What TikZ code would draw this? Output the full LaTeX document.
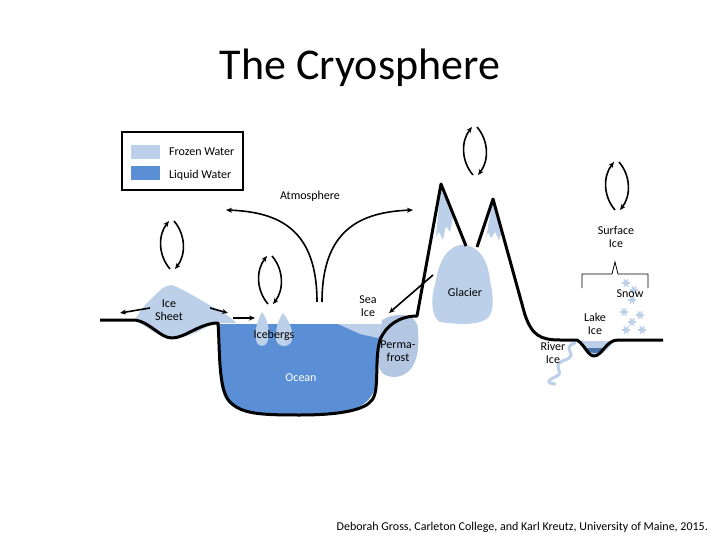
\documentclass[tikz,border=0pt]{standalone}
\usepackage{fontspec}
\setmainfont{Carlito}
\usetikzlibrary{arrows.meta,decorations.pathreplacing}
\definecolor{frozen}{HTML}{BDD0E9}
\definecolor{liquid}{HTML}{5B8FD5}
\definecolor{perma}{HTML}{B4C7E2}
\tikzset{
  lbl/.style={font=\fontsize{12}{13}\selectfont, align=center, inner sep=0pt},
  flow/.style={line width=1.6pt, -{Stealth[length=6pt,width=5pt]}},
  ground/.style={line width=3pt, line join=round},
  pics/loop/.style={code={
    \draw[flow] (-2,24) .. controls (-14,10) and (-14,-10) .. (-3,-24);
    \draw[flow] (2,-24) .. controls (14,-10) and (14,10) .. (3,24);
  }},
  pics/flake/.style={code={
    \draw[frozen, line width=1.6pt] (-4,0)--(4,0) (-2,-3.5)--(2,3.5) (-2,3.5)--(2,-3.5);
  }}
}
\begin{document}
\begin{tikzpicture}[x=1pt,y=-1pt]
\useasboundingbox (0,0) rectangle (720,540);
\fill[white] (0,0) rectangle (720,540);
\node[font=\fontsize{44}{46}\selectfont, inner sep=0pt] (title) at (360,68) {The Cryosphere};
% legend
\draw[line width=1.2pt] (122,132) rectangle (243,190);
\fill[frozen] (131,145) rectangle (160,159);
\fill[liquid] (131,166) rectangle (160,180);
\node[lbl, anchor=west] (lf) at (169,152) {Frozen Water};
\node[lbl, anchor=west] (ll) at (169,175) {Liquid Water};
\node[lbl] (atm) at (310,196) {Atmosphere};
% ocean
\fill[liquid] (218,324) -- (416,324) .. controls (395,330) and (378,345) .. (378,370) .. controls (376,400) and (365,410) .. (330,414) -- (260,414) .. controls (225,412) and (220,395) .. (220,370) -- cycle;
% sea ice
\fill[frozen] (338,324) -- (392,324) .. controls (386,328) and (382,332) .. (378,338) -- (360,334) -- cycle;
% permafrost
\fill[perma] (382,320) .. controls (395,312) and (418,312) .. (418,330) .. controls (420,355) and (415,375) .. (395,377) .. controls (382,377) and (377,370) .. (378,355) -- cycle;
% ice sheet
\fill[frozen] (135,320) .. controls (140,310) and (145,305) .. (152,298) .. controls (160,290) and (165,285) .. (172,285) .. controls (185,290) and (200,300) .. (215,308) .. controls (225,314) and (232,318) .. (236,323) -- (215,323) .. controls (200,330) and (190,338) .. (172,338) .. controls (155,336) and (145,325) .. (135,320) -- cycle;
% icebergs
\fill[frozen] (262,312) .. controls (268,320) and (270,330) .. (268,340) .. controls (266,348) and (258,348) .. (256,340) .. controls (254,330) and (258,320) .. (262,312) -- cycle;
\fill[frozen] (283,313) .. controls (289,320) and (294,332) .. (292,340) .. controls (290,348) and (278,348) .. (276,340) .. controls (275,330) and (278,320) .. (283,313) -- cycle;
% glacier
\fill[frozen] (460,245) .. controls (480,244) and (488,262) .. (490,280) .. controls (493,295) and (495,310) .. (488,318) .. controls (480,325) and (460,325) .. (440,322) .. controls (432,318) and (430,300) .. (435,285) .. controls (438,265) and (445,248) .. (460,245) -- cycle;
% snow caps
\fill[frozen] (441,184) -- (453,217) -- (450,232) -- (446,226) -- (443,240) -- (439,232) -- (436,236) -- cycle;
\fill[frozen] (493,199) -- (502,232) -- (499,240) -- (495,232) -- (491,238) -- (488,232) -- (486,238) -- cycle;
% lake
\fill[frozen] (578,341) -- (614,341) .. controls (608,350) and (600,357) .. (594,356) .. controls (588,356) and (582,348) .. (578,341) -- cycle;
\fill[liquid!80!black] (585,348) -- (606,348) .. controls (600,354) and (590,355) .. (585,348) -- cycle;
% river ice
\draw[frozen, line width=3pt, line cap=round] (575,343) .. controls (560,348) and (580,355) .. (565,360) .. controls (550,365) and (565,372) .. (557,376) .. controls (548,380) and (545,383) .. (555,384);
% ground
\draw[ground] (100,320) -- (135,320) .. controls (150,322) and (160,338) .. (172,338) .. controls (185,338) and (200,323) .. (218,323) .. controls (220,350) and (218,390) .. (230,402) .. controls (242,414) and (260,415) .. (300,415) .. controls (340,415) and (365,410) .. (372,400) .. controls (380,390) and (374,360) .. (380,340) .. controls (386,325) and (400,316) .. (417,316) -- (441,184) -- (466,246);
\draw[ground] (477,247) -- (493,199) -- (525,315) .. controls (532,335) and (540,340) .. (560,340) -- (577,340) .. controls (585,345) and (588,356) .. (594,356) .. controls (602,356) and (606,340) .. (618,340) -- (663,340);
% snow flakes
\foreach \p in {(626,283),(632,300),(624,312),(640,315),(632,322),(626,330),(642,330),(634,290)}
  \pic at \p {flake};
% loops
\pic at (172,245) {loop};
\pic at (270,280) {loop};
\pic at (475,151) {loop};
\pic at (617,186) {loop};
% flows
\coordinate (isl) at (150,308); \coordinate (isl2) at (120,313);
\draw[flow] (isl) -- (isl2);
\coordinate (isr) at (210,308); \coordinate (isr2) at (228,313);
\draw[flow] (isr) -- (isr2);
\coordinate (ib1) at (233,318); \coordinate (ib2) at (255,318);
\draw[flow] (ib1) -- (ib2);
\coordinate (o1) at (317,302); \coordinate (o1e) at (226,210);
\draw[flow] (o1) .. controls (317,230) and (280,212) .. (o1e);
\coordinate (o2) at (322,302); \coordinate (o2e) at (413,210);
\draw[flow] (o2) .. controls (322,230) and (360,212) .. (o2e);
\coordinate (g1) at (433,275); \coordinate (g2) at (389,313);
\draw[flow] (g1) -- (g2);
% brace
\draw[line width=0.8pt] (582,288) -- (582,274) -- (612,274) -- (615,262) -- (618,274) -- (648,274) -- (648,288);
% labels
\node[lbl] (icesheet) at (169,310) {Ice\\Sheet};
\node[lbl] (seaice) at (368,306) {Sea\\Ice};
\node[lbl] (icebergs) at (274,335) {Icebergs};
\node[lbl] (perma) at (398,351) {Perma-\\frost};
\node[lbl, text=white] (ocean) at (301,378) {Ocean};
\node[lbl] (glacier) at (465,292) {Glacier};
\node[lbl] (surf) at (616,237) {Surface\\Ice};
\node[lbl] (snow) at (630,294) {Snow};
\node[lbl] (lake) at (595,324) {Lake\\Ice};
\node[lbl] (river) at (553,353) {River\\Ice};
\node[lbl, anchor=east] (credit) at (708,527) {Deborah Gross, Carleton College, and Karl Kreutz, University of Maine, 2015.};
\end{tikzpicture}
\end{document}
